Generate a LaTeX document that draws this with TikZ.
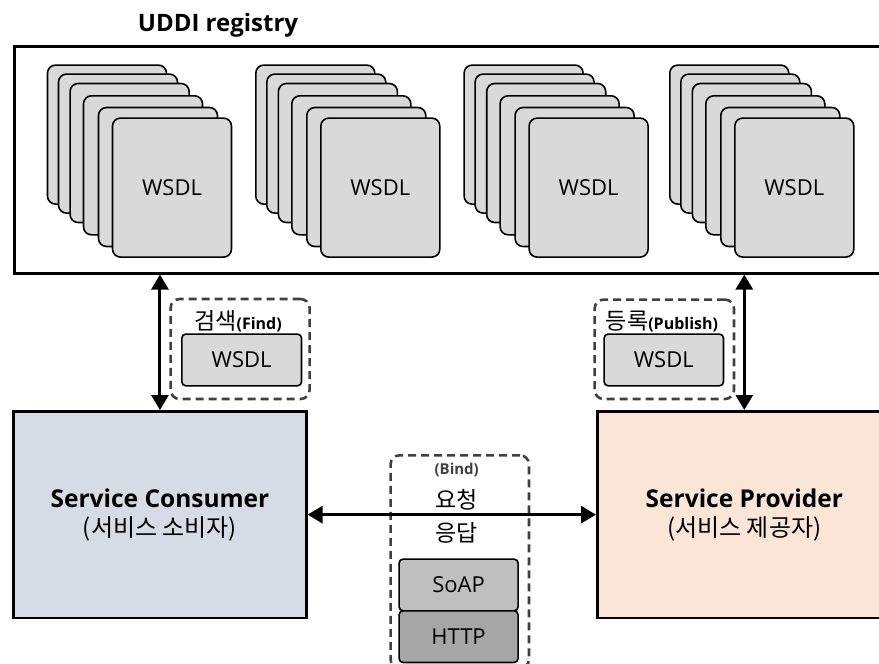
\documentclass[tikz,border=0pt]{standalone}
\usepackage{fontspec}
\setmainfont{Open Sans}
\newfontfamily\kr{Noto Sans CJK KR}
\usetikzlibrary{arrows.meta}
\definecolor{cardfill}{HTML}{D9D9D9}
\definecolor{consfill}{HTML}{D6DCE5}
\definecolor{provfill}{HTML}{FBE5D6}
\definecolor{soapfill}{HTML}{BFBFBF}
\definecolor{httpfill}{HTML}{A6A6A6}
\definecolor{dashcol}{HTML}{404040}
\begin{document}
\begin{tikzpicture}[x=1pt,y=-1pt,
  card/.style={draw=black, line width=1.6pt, fill=cardfill, rounded corners=8pt,
    minimum width=119pt, minimum height=139pt, inner sep=0pt, anchor=north west,
    font=\fontsize{22}{26}\selectfont},
  bigbox/.style={draw=black, line width=2.6pt, inner sep=0pt, anchor=north west},
  grp/.style={draw=dashcol, line width=2.6pt, dash pattern=on 8pt off 5pt, rounded corners=9pt, inner sep=0pt, anchor=north west},
  smallbox/.style={draw=black, line width=1.6pt, rounded corners=4pt, inner sep=0pt, anchor=north west,
    font=\fontsize{22}{26}\selectfont},
  arr/.style={line width=3pt, {Triangle[length=15pt,width=17pt]}-{Triangle[length=15pt,width=17pt]}},
  lbl/.style={inner sep=0pt, font=\kr\fontsize{23}{26}\selectfont},
  main/.style={align=center, font=\fontsize{24.5}{29}\selectfont}
]
\useasboundingbox (0,0) rectangle (879,664);
\clip (0,0) rectangle (879,664);
% registry
\node[bigbox, minimum width=880pt, minimum height=227pt] (reg) at (13,45) {};
\node[inner sep=0pt, font=\fontsize{24}{28}\selectfont\bfseries] (regt) at (218,25) {UDDI registry};
% card stacks
\foreach \s/\sx in {1/46.7,2/255,3/463.3,4/669}{
  \foreach \c/\dx/\dy in {1/0/0,2/11/9,3/22.6/18.4,4/36/30.7,5/51/42.4}{
    \node[card] (c\s-\c) at (\sx+\dx,64.3+\dy) {};
  }
  \node[card] (c\s-6) at (\sx+65,64.3+53) {WSDL};
}
% consumer / provider
\node[bigbox, main, fill=consfill, minimum width=292.7pt, minimum height=206.7pt] (cons) at (12.3,410)
  {\bfseries Service Consumer\\{\kr\fontsize{24}{29}\selectfont (서비스 소비자)}};
\node[bigbox, main, fill=provfill, minimum width=294pt, minimum height=206.7pt] (prov) at (596,410)
  {\bfseries Service Provider\\{\kr\fontsize{24}{29}\selectfont (서비스 제공자)}};
% find group
\node[grp, minimum width=139pt, minimum height=100pt] (findg) at (169.3,297.7) {};
\node[lbl] (findt) at (238,321.7) {검색{\rmfamily\fontsize{16}{18}\selectfont\bfseries(Find)}};
\node[smallbox, fill=cardfill, minimum width=119.7pt, minimum height=51.7pt] (findw) at (181,333.3) {WSDL};
% publish group
\node[grp, minimum width=139.4pt, minimum height=99.4pt] (pubg) at (593.3,298.3) {};
\node[lbl] (pubt) at (662,321.7) {등록{\rmfamily\fontsize{16}{18}\selectfont\bfseries(Publish)}};
\node[smallbox, fill=cardfill, minimum width=119.4pt, minimum height=51.7pt] (pubw) at (603.3,333.3) {WSDL};
% bind group
\node[grp, minimum width=138.4pt, minimum height=213pt] (bindg) at (389.3,454) {};
\node[inner sep=0pt, text=dashcol, font=\fontsize{15}{17}\selectfont\bfseries] (bindt) at (456.7,470) {(Bind)};
\node[lbl] (req) at (456.7,500) {요청};
\node[lbl] (resp) at (456.7,533) {응답};
\node[smallbox, fill=soapfill, minimum width=119pt, minimum height=51.7pt] (soap) at (398.3,558.3) {SoAP};
\node[smallbox, fill=httpfill, minimum width=119pt, minimum height=51.7pt] (http) at (398.3,610) {HTTP};
% arrows
\draw[arr] (reg.south -| cons.north) -- (cons.north);
\draw[arr] (reg.south -| prov.north) -- (prov.north);
\draw[arr] (cons.east) -- (prov.west);
\end{tikzpicture}
\end{document}
